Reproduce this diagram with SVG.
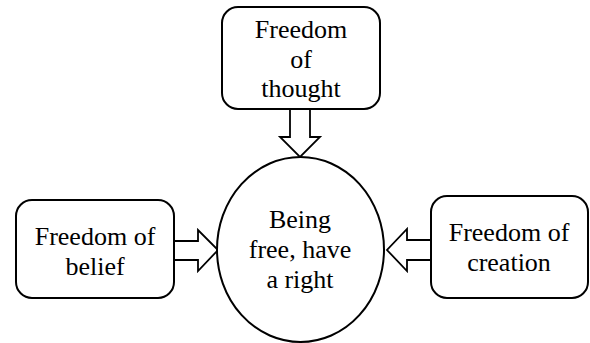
<svg xmlns="http://www.w3.org/2000/svg" width="590" height="343" viewBox="0 0 590 343">
<style>
.box{fill:#fff;stroke:#000;stroke-width:2}
.arr{fill:#fff;stroke:#000;stroke-width:1.8;stroke-linejoin:miter}
.t{font-family:'Liberation Serif','Times New Roman',serif;font-size:26px;fill:#000;text-anchor:middle}
</style>
<rect width="590" height="343" fill="#fff"/>
<g id="connectors">
<polygon class="arr" points="290,109 310,109 310,137 320,137 300,157 280,137 290,137"/>
<polygon class="arr" points="174,241 198,241 198,230 218,250 198,271 198,260 174,260"/>
<polygon class="arr" points="431,240 407,240 407,229 387,250 407,271 407,260 431,260"/>
</g>
<g id="thought">
<rect class="box" x="222" y="7" width="158" height="102" rx="16"/>
<text class="t" x="301" y="38">Freedom</text>
<text class="t" x="301" y="68">of</text>
<text class="t" x="301" y="97">thought</text>
</g>
<g id="belief">
<rect class="box" x="16" y="200" width="158" height="98" rx="16"/>
<text class="t" x="95" y="245">Freedom of</text>
<text class="t" x="95" y="275">belief</text>
</g>
<g id="creation">
<rect class="box" x="431" y="196" width="157" height="102" rx="16"/>
<text class="t" x="509" y="241">Freedom of</text>
<text class="t" x="509" y="271">creation</text>
</g>
<g id="center">
<ellipse class="box" cx="300.5" cy="249.5" rx="83.5" ry="92.5"/>
<text class="t" x="300" y="228">Being</text>
<text class="t" x="300" y="258">free, have</text>
<text class="t" x="300" y="288">a right</text>
</g>
</svg>
